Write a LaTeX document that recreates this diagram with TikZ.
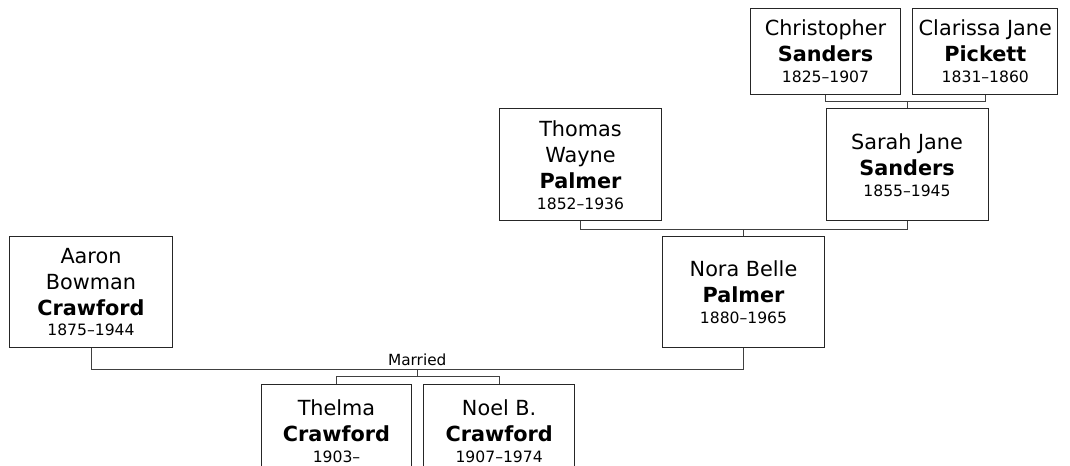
\documentclass[tikz,border=0pt]{standalone}
\usepackage{fontspec}
\setmainfont{DejaVu Sans}
\usetikzlibrary{positioning}
\tikzset{
    person/.style={draw=black!85, line width=0.75pt, fill=white, align=center, inner sep=0pt, font=\fontsize{15.6}{19.5}\selectfont},
    bigbox/.style={person, minimum width=122pt, minimum height=83pt},
    smallbox/.style={person, minimum width=113pt, minimum height=65pt},
    link/.style={draw=black!75, line width=0.75pt},
    note/.style={font=\fontsize{11.5}{12}\selectfont, inner sep=0pt, above=3pt}
}
\newcommand{\years}[1]{{\fontsize{11.7}{14}\selectfont #1}}

\begin{document}
\begin{tikzpicture}[x=0.75pt, y=-0.75pt]
    \useasboundingbox (0,0) rectangle (1070,466);
    \clip (0,0) rectangle (1070,466);

    % grandparents of Nora
    \node[smallbox] (christopher) at (825.5,51.5) {Christopher\\\textbf{Sanders}\\[-4pt]\years{1825–1907}};
    \node[smallbox, minimum width=108.75pt, right=8.25pt of christopher] (clarissa) {Clarissa Jane\\\textbf{Pickett}\\[-4pt]\years{1831–1860}};

    % parents of Nora
    \node[bigbox, minimum height=84pt] (thomas) at (580.5,165) {Thomas\\Wayne\\\textbf{Palmer}\\[-4pt]\years{1852–1936}};
    \node[bigbox, minimum width=121.5pt, minimum height=84pt] (sarah) at (907,165) {Sarah Jane\\\textbf{Sanders}\\[-4pt]\years{1855–1945}};

    % the couple
    \node[bigbox] (aaron) at (91,292) {Aaron\\Bowman\\\textbf{Crawford}\\[-4pt]\years{1875–1944}};
    \node[bigbox] (nora) at (743.5,292) {Nora Belle\\\textbf{Palmer}\\[-4pt]\years{1880–1965}};

    % children
    \node[smallbox, anchor=north, minimum height=70pt] (thelma) at (336.5,384) {Thelma\\\textbf{Crawford}\\[-4pt]\years{1903–}};
    \node[smallbox, minimum height=70pt, right=8.25pt of thelma] (noel) {Noel B.\\\textbf{Crawford}\\[-4pt]\years{1907–1974}};

    % links
    \draw[link] (christopher.south) -- ++(0,6) coordinate (cs) -| (clarissa.south);
    \draw[link] (sarah.north) -- (sarah.north |- cs);
    \draw[link] (thomas.south) -- ++(0,8) coordinate (ts) -| (sarah.south);
    \draw[link] (nora.north) -- (nora.north |- ts);
    \draw[link] (aaron.south) -- ++(0,22) -| coordinate[pos=0.25] (wed) node[note, pos=0.25] (married) {Married} (nora.south);
    \draw[link] (wed) -- ++(0,7) coordinate (kids);
    \draw[link] (thelma.north) |- (kids) -| (noel.north);
\end{tikzpicture}
\end{document}
